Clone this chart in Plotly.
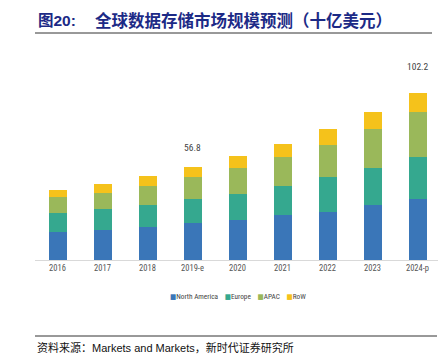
import plotly.graph_objects as go

years = ["2016", "2017", "2018", "2019-e", "2020", "2021", "2022", "2023", "2024-p"]
north_america = [17.3, 18.3, 20.0, 22.4, 24.4, 27.5, 29.5, 33.6, 37.3]
europe = [11.6, 12.8, 13.6, 14.7, 16.3, 17.9, 21.2, 23.0, 25.9]
apac = [9.8, 10.2, 11.8, 13.6, 15.9, 17.7, 20.0, 23.4, 27.3]
row = [4.1, 5.5, 6.1, 6.1, 6.9, 8.1, 9.6, 10.8, 11.7]
labels = {"2019-e": "56.8", "2024-p": "102.2"}
label_shift = {"2019-e": 20, "2024-p": 27}

series = [
    ("North America", north_america, "#3a76b8"),
    ("Europe", europe, "#35a88f"),
    ("APAC", apac, "#9ab85a"),
    ("RoW", row, "#f5c21b"),
]

NARROW = "Liberation Sans Narrow, Roboto Condensed, DejaVu Sans Condensed, sans-serif"

fig = go.Figure()
for name, vals, col in series:
    fig.add_trace(go.Bar(x=years, y=vals, name=name, marker=dict(color=col, line=dict(width=0)),
                         width=0.4, showlegend=False))

totals = [sum(v) for v in zip(north_america, europe, apac, row)]
for yr, tot in zip(years, totals):
    if yr in labels:
        fig.add_annotation(x=yr, y=tot, text=labels[yr], showarrow=False, yshift=label_shift[yr],
                           font=dict(family=NARROW, size=9.5, color="#444444"))

# page has an 8px body margin; work in screen pixels
OFF = 8
W, H = 446 - OFF, 362 - OFF
def px(x):
    return (x - OFF) / W
def py(y):
    return (H - (y - OFF)) / H

fig.update_layout(
    width=W, height=H, barmode="stack",
    margin=dict(l=0, r=0, t=0, b=0),
    paper_bgcolor="white", plot_bgcolor="white",
    xaxis=dict(domain=[px(35), px(440)], showline=True, linecolor="#d9d9d9", linewidth=1,
               tickfont=dict(family=NARROW, size=8.5, color="#555555"),
               ticks="", showgrid=False, automargin=False),
    yaxis=dict(domain=[py(260), py(64)], range=[0, 120], visible=False, showgrid=False),
    showlegend=False,
)

legend_text = "    ".join(
    f'<span style="color:{col}">■</span>{name}' for name, _, col in series
)
fig.add_annotation(xref="paper", yref="paper", x=px(238), y=py(296), xanchor="center", yanchor="middle",
                   text=legend_text, showarrow=False,
                   font=dict(family=NARROW, size=7.3, color="#444444"))

TITLE_COL = "#1c2a86"
fig.add_annotation(xref="paper", yref="paper", x=px(36), y=py(20), xanchor="left", yanchor="middle",
                   text="<b>图20:</b>", showarrow=False,
                   font=dict(family="Liberation Sans, Noto Sans CJK SC", size=15.5, color=TITLE_COL))
fig.add_annotation(xref="paper", yref="paper", x=px(93), y=py(20), xanchor="left", yanchor="middle",
                   text="<b>全球数据存储市场规模预测（十亿美元）</b>", showarrow=False,
                   font=dict(family="Noto Sans CJK SC", size=16.5, color=TITLE_COL))
fig.add_shape(type="line", xref="paper", yref="paper", x0=px(35), x1=px(432), y0=py(33), y1=py(33),
              line=dict(color="#333333", width=1))
fig.add_shape(type="line", xref="paper", yref="paper", x0=px(35), x1=px(437), y0=py(336), y1=py(336),
              line=dict(color="#333333", width=1))
fig.add_annotation(xref="paper", yref="paper", x=px(35), y=py(347), xanchor="left", yanchor="middle",
                   text="资料来源：Markets and Markets，新时代证券研究所", showarrow=False,
                   font=dict(family="Liberation Sans, Noto Sans CJK SC", size=11, color="#111111"))

fig.write_html("out.html")
